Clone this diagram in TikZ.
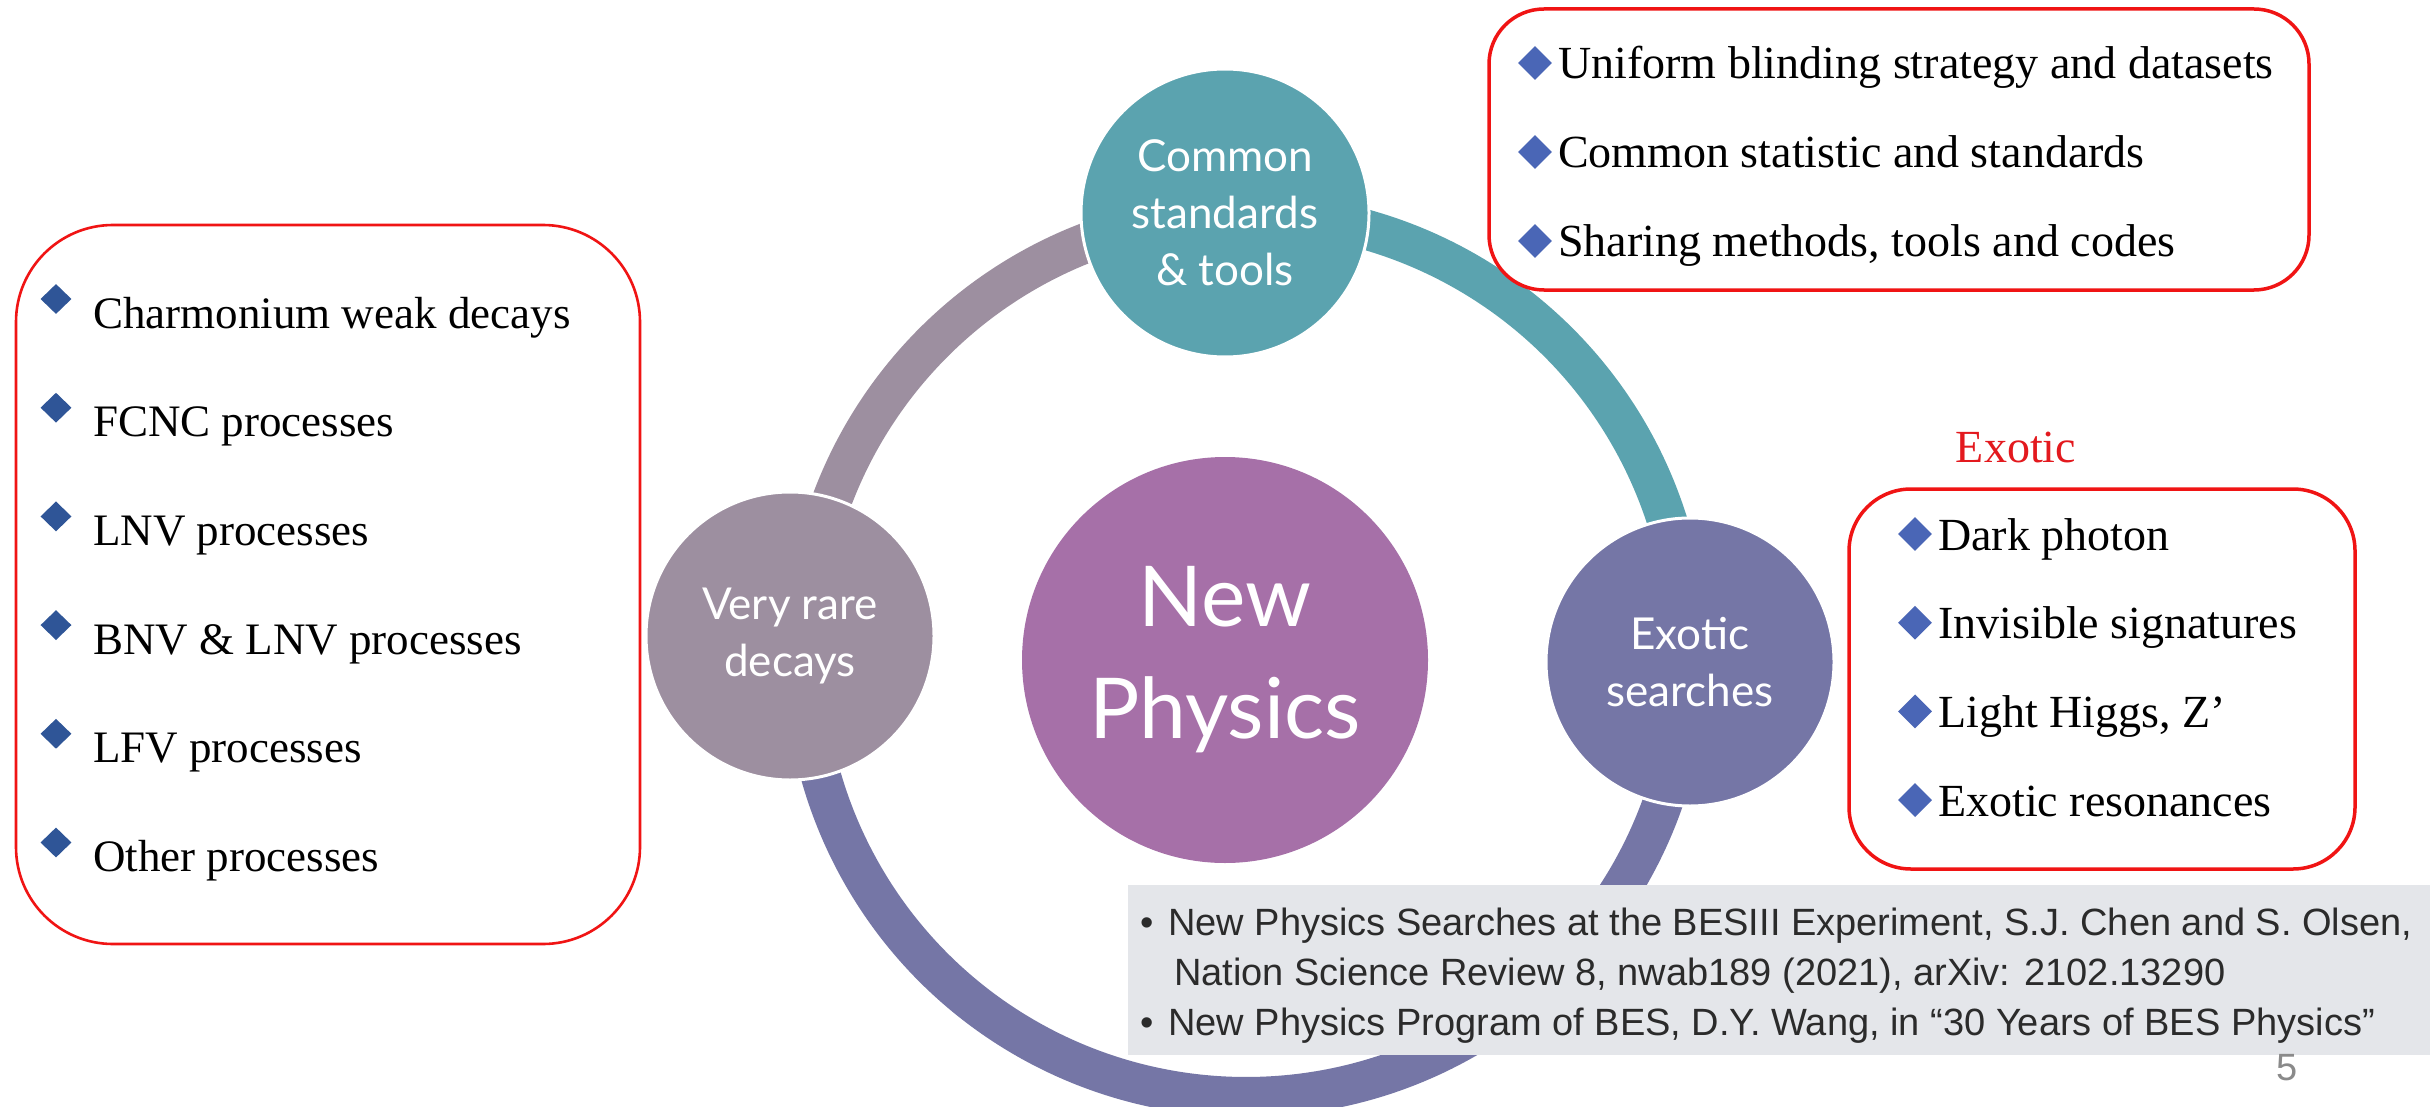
\documentclass[tikz,border=0pt]{standalone}
\usepackage{fontspec}
\setmainfont{Liberation Serif}
\newfontfamily\circfont{Lato}
\newfontfamily\reffont{Liberation Sans}
\usetikzlibrary{shapes.geometric}

\definecolor{tealC}{HTML}{5BA3AF}
\definecolor{mauveC}{HTML}{9D8FA0}
\definecolor{slateC}{HTML}{7576A6}
\definecolor{hubC}{HTML}{A670A8}
\definecolor{boxred}{HTML}{F01414}
\definecolor{diaL}{HTML}{2F5597}
\definecolor{diaR}{HTML}{4A66B6}
\definecolor{refbg}{HTML}{E4E6EA}
\definecolor{reftxt}{HTML}{2B2B2B}
\definecolor{exred}{HTML}{E3191E}
\definecolor{pagegray}{HTML}{8A8A8A}

\begin{document}
\begin{tikzpicture}[x=1pt,y=-1pt,
  ringarc/.style={line width=40pt},
  satellite/.style={circle, minimum size=288pt, inner sep=0pt, draw=white,
    line width=3pt, text=white, align=center,
    font=\circfont\fontsize{44pt}{57pt}\selectfont},
  hubnode/.style={circle, minimum size=406pt, inner sep=0pt, fill=hubC,
    text=white, align=center, font=\circfont\fontsize{84pt}{112pt}\selectfont},
  listbox/.style={draw=boxred, line width=3.5pt, fill=white},
  itemL/.style={anchor=base west, inner sep=0pt, font=\fontsize{45pt}{54pt}\selectfont},
  itemR/.style={anchor=base west, inner sep=0pt, font=\fontsize{46pt}{55pt}\selectfont},
  bulL/.style={diamond, fill=diaL, inner sep=0pt, minimum width=31pt, minimum height=30pt},
  bulR/.style={diamond, fill=diaR, inner sep=0pt, minimum width=34pt, minimum height=34pt},
  reftext/.style={anchor=base west, inner sep=0pt, text=reftxt,
    font=\reffont\fontsize{38pt}{45pt}\selectfont},
]
\useasboundingbox (0,0) rectangle (2435,1107);
\fill[white] (0,0) rectangle (2435,1107);

% ---- the cycle ring, one arc per colour ----
\coordinate (ringc) at (1246,655);
\draw[ringarc, tealC]  (ringc) ++(-92.7:442) arc[start angle=-92.7, end angle=0.6,   radius=442];
\draw[ringarc, slateC] (ringc) ++(0.6:442)   arc[start angle=0.6,   end angle=182.6, radius=442];
\draw[ringarc, mauveC] (ringc) ++(182.6:442) arc[start angle=182.6, end angle=267.3, radius=442];

% ---- satellites and hub ----
\node[satellite, fill=tealC]  (common) at (1225,213) {Common\\standards\\\& tools};
\node[satellite, fill=mauveC] (rare)   at (790,636)  {Very rare\\decays};
\node[satellite, fill=slateC] (exotic) at (1690,662) {Exotic\\searches};
\node[hubnode] (np) at (1225,660) {New\\Physics};

% ---- left list: rare decays ----
\draw[listbox, line width=2.6pt, rounded corners=97pt] (16,225) rectangle (640,944);
\foreach \t [count=\i] in {Charmonium weak decays, FCNC processes, LNV processes,
    BNV \& LNV processes, LFV processes, Other processes} {
  \pgfmathsetmacro{\yb}{328+(\i-1)*108.7}
  \node[bulL] (dl\i) at (56,\yb-29) {};
  \node[itemL] (li\i) at (93,\yb) {\t};
}

% ---- top right list: common standards ----
\draw[listbox, rounded corners=55pt] (1489,9) rectangle (2309,290);
\foreach \t [count=\i] in {Uniform blinding strategy and datasets,
    Common statistic and standards, Sharing methods{,} tools and codes} {
  \pgfmathsetmacro{\yb}{79+(\i-1)*89}
  \node[bulR] (dc\i) at (1535,\yb-16) {};
  \node[itemR] (ci\i) at (1558,\yb) {\t};
}

% ---- exotic list ----
\node[anchor=base, inner sep=0pt, text=exred, font=\fontsize{46pt}{55pt}\selectfont]
  (extitle) at (2016,462) {Exotic};
\draw[listbox, rounded corners=62pt] (1849,489) rectangle (2355,869);
\foreach \t [count=\i] in {Dark photon, Invisible signatures, Light Higgs{,} Z’,
    Exotic resonances} {
  \pgfmathsetmacro{\yb}{550+(\i-1)*88.7}
  \node[bulR] (de\i) at (1915,\yb-16) {};
  \node[itemR] (ei\i) at (1938,\yb) {\t};
}

% ---- references ----
\fill[refbg] (1128,885) rectangle (2430,1055);
\node[reftext] (rb1) at (1140,935) {•};
\node[reftext] (r1) at (1168,935)
  {New Physics Searches at the BESIII Experiment, S.J. Chen and S. Olsen,};
\node[reftext] (r2) at (1174,985)
  {Nation Science Review 8, nwab189 (2021), arXiv: 2102.13290};
\node[reftext] (rb2) at (1140,1035) {•};
\node[reftext] (r3) at (1168,1035)
  {New Physics Program of BES, D.Y. Wang, in “30 Years of BES Physics”};

\node[anchor=base, inner sep=0pt, text=pagegray,
  font=\reffont\fontsize{38pt}{44pt}\selectfont] (pg) at (2287,1080) {5};
\end{tikzpicture}
\end{document}
